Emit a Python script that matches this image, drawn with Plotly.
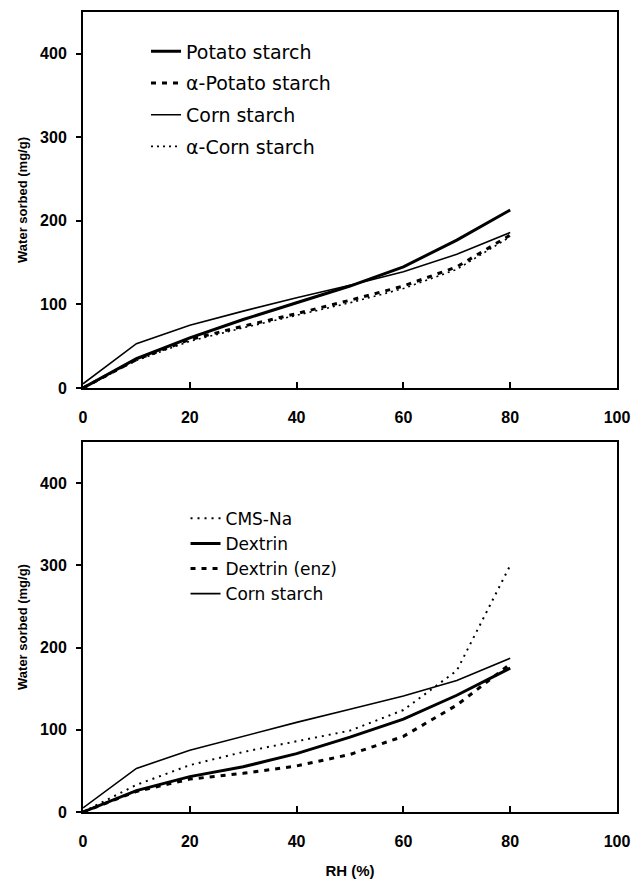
import plotly.graph_objects as go

# ---- data ----
rh = [0, 10, 20, 30, 40, 50, 60, 70, 80]

# top panel
potato_starch = [0, 35, 60, 82, 102, 122, 145, 177, 213]
alpha_potato_starch = [0, 34, 58, 74, 89, 105, 122, 145, 183]
corn_starch_top = [5, 53, 75, 92, 108, 123, 139, 160, 186]
alpha_corn_starch = [0, 33, 56, 72, 87, 102, 119, 142, 181]

# bottom panel
cms_na = [0, 33, 57, 73, 86, 99, 124, 172, 300]
dextrin = [0, 26, 43, 55, 71, 91, 113, 142, 175]
dextrin_enz = [0, 25, 40, 47, 56, 70, 92, 130, 180]
corn_starch_bottom = [5, 53, 75, 92, 109, 125, 141, 160, 187]

x_ticks = [0, 20, 40, 60, 80, 100]
y_ticks = [0, 100, 200, 300, 400]

FONT = "Liberation Sans, Arial, sans-serif"
LEGEND_FONT = "DejaVu Sans, Verdana, sans-serif"
BLACK = "#000000"

fig = go.Figure()

def add(x, y, name, width, dash, xa, ya, legend):
    fig.add_trace(go.Scatter(
        x=x, y=y, name=name, mode="lines",
        line=dict(color=BLACK, width=width, dash=dash),
        xaxis=xa, yaxis=ya, legend=legend, legendgroup=name + legend,
    ))

add(rh, potato_starch, "Potato starch", 3, "solid", "x", "y", "legend")
add(rh, alpha_potato_starch, "α-Potato starch", 3, "5px,6px", "x", "y", "legend")
add(rh, corn_starch_top, "Corn starch", 1.6, "solid", "x", "y", "legend")
add(rh, alpha_corn_starch, "α-Corn starch", 1.6, "2px,4px", "x", "y", "legend")

add(rh, cms_na, "CMS-Na", 2, "2px,5px", "x2", "y2", "legend2")
add(rh, dextrin, "Dextrin", 3, "solid", "x2", "y2", "legend2")
add(rh, dextrin_enz, "Dextrin (enz)", 3, "5px,6px", "x2", "y2", "legend2")
add(rh, corn_starch_bottom, "Corn starch", 1.6, "solid", "x2", "y2", "legend2")

tickfont = dict(family=FONT, size=16, color=BLACK, weight="bold")

xcommon = dict(
    range=[0, 100], tickmode="array", tickvals=x_ticks,
    ticks="inside", ticklen=6, tickwidth=1.5, tickcolor=BLACK,
    showline=True, linewidth=2, linecolor=BLACK, mirror=True,
    showgrid=False, zeroline=False, tickfont=tickfont,
    ticklabelstandoff=14, automargin=False,
)
ycommon = dict(
    range=[0, 450], tickmode="array", tickvals=y_ticks,
    ticks="outside", ticklen=5, tickwidth=1.5, tickcolor=BLACK,
    showline=True, linewidth=2, linecolor=BLACK, mirror=True,
    showgrid=False, zeroline=False, tickfont=tickfont,
    ticklabelstandoff=6, automargin=False,
    title=dict(text="Water sorbed (mg/g)", standoff=10,
               font=dict(family=FONT, size=13, color=BLACK, weight="bold")),
)

fig.update_layout(
    width=634, height=882,
    margin=dict(l=83, r=17, t=10, b=70),
    paper_bgcolor="white", plot_bgcolor="white",
    showlegend=True,
    xaxis=dict(**xcommon, domain=[0, 1], anchor="y"),
    yaxis=dict(**ycommon, domain=[0.5287, 0.9975], anchor="x"),
    xaxis2=dict(**xcommon, domain=[0, 1], anchor="y2",
                title=dict(text="RH (%)", standoff=16,
                           font=dict(family=FONT, size=15, color=BLACK, weight="bold"))),
    yaxis2=dict(**ycommon, domain=[0, 0.4613], anchor="x2"),
    legend=dict(x=0.118, y=0.972, xanchor="left", yanchor="top",
                bgcolor="rgba(0,0,0,0)",
                font=dict(family=LEGEND_FONT, size=19, color=BLACK),
                tracegroupgap=4, itemwidth=30),
    legend2=dict(x=0.192, y=0.388, xanchor="left", yanchor="top",
                 bgcolor="rgba(0,0,0,0)",
                 font=dict(family=LEGEND_FONT, size=17, color=BLACK),
                 tracegroupgap=0, itemwidth=30),
)

fig.write_html("out.html")
